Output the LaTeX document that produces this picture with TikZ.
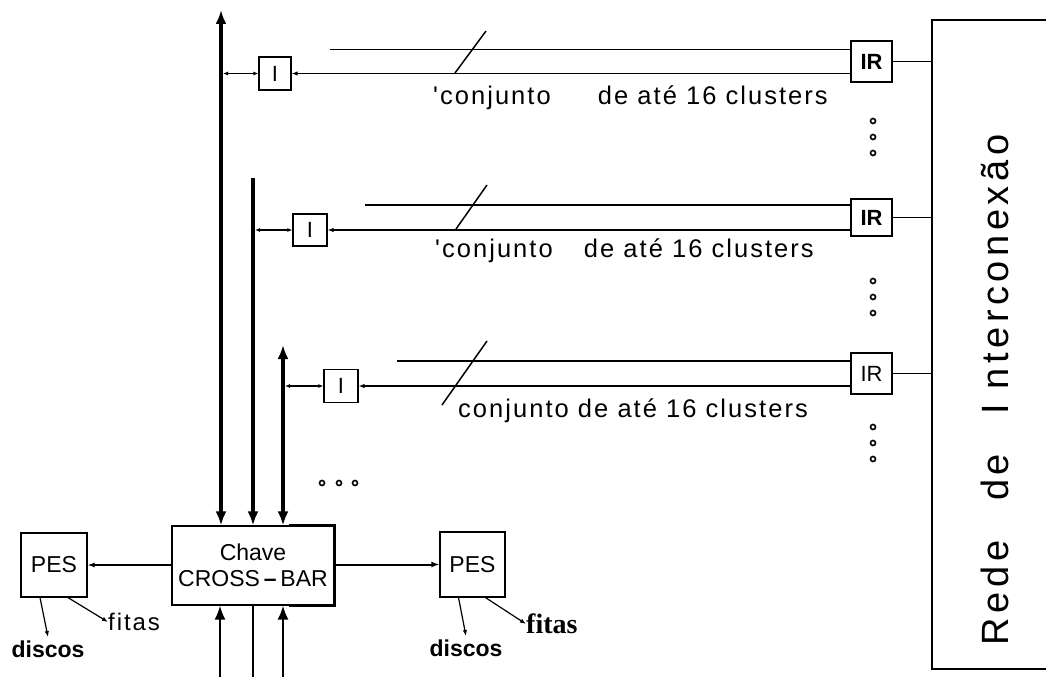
\documentclass[tikz,border=0pt]{standalone}
\usepackage{fontspec}
\setmainfont{Liberation Sans}
\newfontfamily\spacedfont[LetterSpace=8]{Liberation Sans}
\newfontfamily\widefont[LetterSpace=12]{Liberation Sans}
\newfontfamily\timesfont{Liberation Serif}
\usetikzlibrary{arrows.meta}

\begin{document}
\begin{tikzpicture}[x=1pt,y=-1pt,
    box/.style={draw,line width=1.2pt,inner sep=0pt},
    bus/.style={line width=4.5pt},
    bustip/.style={-{Latex[length=14pt,width=11pt]}},
    sig/.style={line width=1.2pt},
    tip/.style={-{Latex[length=6pt,width=4.5pt]}},
    dot/.style={line width=1.6pt},
    lbl/.style={font=\spacedfont\fontsize{25.5}{30}\selectfont,anchor=base west,inner sep=0pt}]
    \useasboundingbox (0,0) rectangle (1046,677);
    % 交叉开关和两个PES
    \node[box,minimum width=162pt,minimum height=79pt,align=center,
        font=\fontsize{23}{26}\selectfont] (chave) at (253,565.5) {Chave\\CROSS\,{\bfseries --}\,BAR};
    \draw[line width=2.5pt] ([xshift=-46pt]chave.north east) -- (chave.north east)
        -- (chave.south east) -- ([xshift=-46pt]chave.south east);
    \node[box,minimum width=66pt,minimum height=64pt,font=\fontsize{23}{26}\selectfont] (pesl) at (54,565) {PES};
    \node[box,minimum width=65pt,minimum height=65pt,font=\fontsize{23}{26}\selectfont] (pesr) at (472.5,564.5) {PES};
    \draw[sig,-{Latex[length=7pt,width=5pt]}] (chave.west |- pesl) -- (pesl.east);
    \draw[line width=2pt,-{Latex[length=8pt,width=6pt]}] (chave.east |- pesr) -- (pesr.west);
    % 磁盘和磁带
    \node[font=\bfseries\fontsize{23}{26}\selectfont] (discl) at (48,649) {discos};
    \node[font=\spacedfont\fontsize{24}{28}\selectfont,anchor=west,inner sep=0pt] (fital) at (108,622) {fitas};
    \node[font=\bfseries\fontsize{23}{26}\selectfont] (discr) at (466,648) {discos};
    \node[font=\timesfont\bfseries\fontsize{28}{32}\selectfont,anchor=west,inner sep=0pt] (fitar) at (526,624) {fitas};
    \draw[sig,tip] ([xshift=-14pt]pesl.south) -- (discl.north);
    \draw[sig,tip] ([xshift=14pt]pesl.south) -- (fital.west);
    \draw[sig,tip] ([xshift=-14pt]pesr.south) -- (discr.north);
    \draw[sig,tip] ([xshift=13pt]pesr.south) -- (fitar.west);
    % 三条总线
    \coordinate (b1) at (221,10);
    \coordinate (b2) at (253,178);
    \coordinate (b3) at (283,345);
    \draw[bus,{Latex[length=14pt,width=11pt]}-{Latex[length=14pt,width=11pt]}] (b1) -- (b1 |- chave.north);
    \draw[bus,bustip] (b2) -- (b2 |- chave.north);
    \draw[bus,{Latex[length=14pt,width=11pt]}-{Latex[length=14pt,width=11pt]}] (b3) -- (b3 |- chave.north);
    \coordinate (c1) at (220,677);
    \coordinate (c2) at (253,677);
    \coordinate (c3) at (283,677);
    \draw[line width=2pt,bustip] (c1) -- (c1 |- chave.south);
    \draw[line width=2pt] (c2) -- (c2 |- chave.south);
    \draw[line width=2pt,bustip] (c3) -- (c3 |- chave.south);
    \foreach \x in {322,339,355} \draw[dot] (\x,483) circle (2.5pt);
    % 网络
    \node[draw,line width=2pt,minimum width=140pt,minimum height=649pt] (rede) at (1002,344.5) {};
    \node[rotate=90,font=\widefont\fontsize{38}{44}\selectfont] (redetxt) at (995,390)
        {Rede\hspace{40pt}de\hspace{40pt}I\hspace{14pt}nterconexão};
    % 三组簇
    \node[box,minimum width=32pt,minimum height=33pt,font=\fontsize{22}{24}\selectfont] (i1) at (275,73.5) {I};
    \node[box,minimum width=34pt,minimum height=32pt,font=\fontsize{22}{24}\selectfont] (i2) at (310,230) {I};
    \node[box,minimum width=34pt,minimum height=33pt,font=\fontsize{22}{24}\selectfont] (i3) at (341,386) {I};
    \node[box,minimum size=41pt,font=\bfseries\fontsize{22}{24}\selectfont] (ir1) at (871.5,61.5) {IR};
    \node[box,minimum width=41pt,minimum height=37pt,font=\bfseries\fontsize{22}{24}\selectfont] (ir2) at (871.5,217.5) {IR};
    \node[box,minimum size=41pt,font=\fontsize{22}{24}\selectfont] (ir3) at (871.5,373.5) {IR};
    \draw[sig,{Latex[length=5pt,width=4pt]}-{Latex[length=5pt,width=4pt]}] ([xshift=2pt]b1 |- i1) -- (i1.west);
    \draw[sig,{Latex[length=5pt,width=4pt]}-{Latex[length=5pt,width=4pt]}] ([xshift=2pt]b2 |- i2) -- (i2.west);
    \draw[sig,{Latex[length=5pt,width=4pt]}-{Latex[length=5pt,width=4pt]}] ([xshift=2pt]b3 |- i3) -- (i3.west);
    \draw[sig,tip] (ir1.west |- i1) -- (i1.east);
    \draw[sig,tip] (ir2.west |- i2) -- (i2.east);
    \draw[sig,tip] (ir3.west |- i3) -- (i3.east);
    \coordinate (u1) at (330,49.5);
    \coordinate (u2) at (365,205);
    \coordinate (u3) at (397,361);
    \draw[sig] (u1) -- (u1 -| ir1.west);
    \draw[sig] (u2) -- (u2 -| ir2.west);
    \draw[sig] (u3) -- (u3 -| ir3.west);
    \draw[line width=1.5pt] (455,73) -- (486,31);
    \draw[line width=1.5pt] (456,229) -- (487,185);
    \draw[line width=1.5pt] (442,405) -- (487,341);
    \draw[sig] (ir1.east) -- (ir1.east -| rede.west);
    \draw[sig] (ir2.east) -- (ir2.east -| rede.west);
    \draw[sig] (ir3.east) -- (ir3.east -| rede.west);
    \node[lbl] (t1) at (433,104) {'conjunto\hspace{38pt} de até 16 clusters};
    \node[lbl] (t2) at (435,257) {'conjunto\hspace{22pt} de até 16 clusters};
    \node[lbl] (t3) at (458,417) {conjunto de até 16 clusters};
    \foreach \y in {121,137,153} \draw[dot] (873,\y) circle (2.5pt);
    \foreach \y in {281,297,313} \draw[dot] (873,\y) circle (2.5pt);
    \foreach \y in {427,443,459} \draw[dot] (873,\y) circle (2.5pt);
\end{tikzpicture}
\end{document}
